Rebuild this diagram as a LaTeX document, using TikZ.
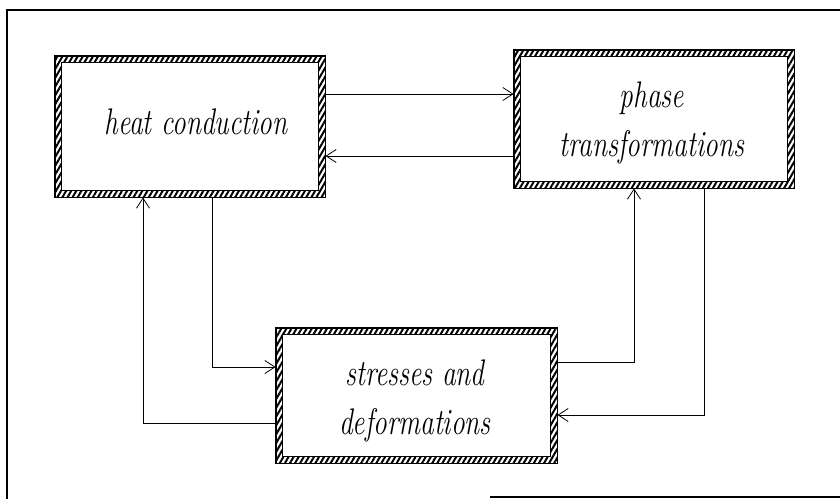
\documentclass[tikz,border=0pt]{standalone}
\usepackage{fontspec}
\usepackage{graphicx}
\usetikzlibrary{arrows.meta,patterns.meta}
\newcommand\boxlab[1]{\scalebox{0.74}[1]{\fontsize{37}{49}\selectfont\itshape\addfontfeatures{FakeBold=1.6}\begin{tabular}{@{}c@{}}#1\end{tabular}}}
\tikzset{
  hbox/.style={draw, line width=0.9pt, inner sep=0pt},
  hatch/.style={pattern={Lines[angle=60,distance=4.4pt,line width=2pt]}, even odd rule},
  lbl/.style={inner sep=0pt},
  conn/.style={line width=0.8pt},
  arr/.style={conn, -{Straight Barb[length=10pt,width=13pt,line width=0.8pt]}},
  frame/.style={line width=1.2pt}
}
\begin{document}
\begin{tikzpicture}[x=1pt,y=-1pt]
\useasboundingbox (0,0) rectangle (840,499);
% outer frame
\draw[frame] (840,10) -- (7,10) -- (7,499);
\draw[frame] (490,497) -- (840,497);
% boxes
\node[hbox, minimum width=270pt, minimum height=141pt] (hc) at (190,126.5) {};
\node[hbox, minimum width=280pt, minimum height=138pt] (pt) at (654,119) {};
\node[hbox, minimum width=281pt, minimum height=135pt] (sd) at (416.5,395.5) {};
\foreach \n in {hc,pt,sd}{
  \path[hatch] (\n.south west) rectangle (\n.north east)
    ([shift={(7,-7)}]\n.south west) rectangle ([shift={(-7,7)}]\n.north east);
  \draw[line width=0.8pt] ([shift={(7,-7)}]\n.south west) rectangle ([shift={(-7,7)}]\n.north east);
  \draw[line width=1pt] (\n.south west) rectangle (\n.north east);
}
% labels
\node[lbl] (hct) at (196,125) {\boxlab{heat conduction}};
\node[lbl] (ptt) at (652,122) {\boxlab{phase\\transformations}};
\node[lbl] (sdt) at (415,400) {\boxlab{stresses and\\deformations}};
% connectors
\draw[arr] (hc.east |- 0,94) -- (pt.west |- 0,94);
\draw[arr] (pt.west |- 0,156) -- (hc.east |- 0,156);
\draw[arr] (hc.south -| 212,0) |- (sd.west |- 0,367);
\draw[arr] (sd.west |- 0,423) -| (hc.south -| 143,0);
\draw[arr] (sd.east |- 0,362) -| (pt.south -| 634,0);
\draw[arr] (pt.south -| 704,0) |- (sd.east |- 0,415);
\end{tikzpicture}
\end{document}
